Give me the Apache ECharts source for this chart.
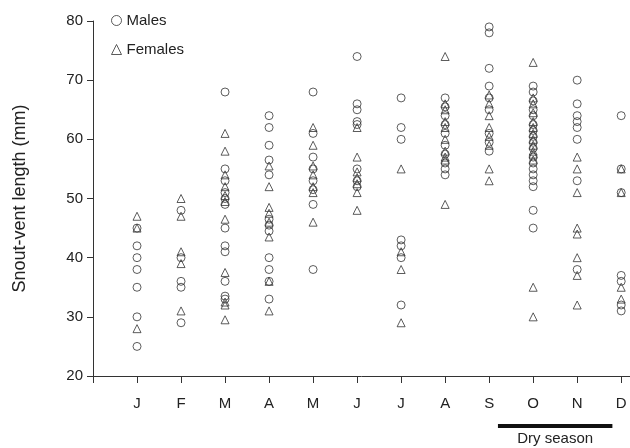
<!DOCTYPE html>
<html>
<head>
<meta charset="utf-8">
<script src="https://cdn.jsdelivr.net/npm/echarts@6/dist/echarts.min.js"></script>
<style>
  html, body { margin: 0; padding: 0; background: #fff; }
  #chart { width: 630px; height: 448px; }
</style>
</head>
<body>
<div id="chart"></div>
<script>
const months = ['J', 'F', 'M', 'A', 'M', 'J', 'J', 'A', 'S', 'O', 'N', 'D'];

// snout-vent length (mm) per month
const males = [
  [45, 42, 40, 38, 35, 30, 25],
  [48, 40, 36, 35, 29],
  [68, 55, 53, 51, 50, 49, 45, 42, 41, 36, 33.5, 33],
  [64, 62, 59, 56.5, 54, 46.5, 45.5, 44.5, 40, 38, 36, 33],
  [68, 61, 57, 55, 53, 51.5, 49, 38],
  [74, 66, 65, 63, 62.5, 55, 53, 52],
  [67, 62, 60, 43, 42, 40, 32],
  [67, 65.5, 64, 62.5, 61, 59, 57.5, 56, 55, 54],
  [79, 78, 72, 69, 67, 65, 61, 59.5, 58],
  [69, 68, 66.5, 65, 64, 62.5, 61.5, 60.5, 59.5, 58.5, 57, 56, 55, 54, 53, 52, 48, 45],
  [70, 66, 64, 63, 62, 60, 53, 38],
  [64, 55, 51, 37, 36, 32, 31]
];
const females = [
  [47, 45, 28],
  [50, 47, 41, 39, 31],
  [61, 58, 54, 52, 50.5, 49.5, 46.5, 37.5, 32.5, 32, 29.5],
  [55.5, 52, 48.5, 47.5, 46, 43.5, 36, 31],
  [62, 59, 55.5, 54, 52, 51, 46],
  [62, 57, 54.5, 53.5, 52.5, 51, 48],
  [55, 41, 38, 29],
  [74, 66, 65, 63, 62, 60, 58, 57, 56.5, 49],
  [67.5, 66, 64, 62, 60.5, 59, 55, 53],
  [73, 67, 66, 64.5, 63, 62, 61, 60, 59, 58, 57.5, 56.5, 35, 30],
  [57, 55, 51, 45, 44, 40, 37, 32],
  [55, 51, 35, 33]
];

// dry season span on the month axis (S=9 ... D=12)
const drySeason = [9.2, 11.8];

function toPoints(groups) {
  const pts = [];
  groups.forEach((vals, i) => vals.forEach(v => pts.push([i + 1, v])));
  return pts;
}

const font = '"Liberation Sans", Arial, sans-serif';
const ink = '#333';

const chart = echarts.init(document.getElementById('chart'));

chart.setOption({
  animation: false,
  textStyle: { fontFamily: font },
  grid: { left: 93, right: 0, top: 21, bottom: 72 },
  legend: {
    orient: 'vertical',
    left: 106,
    top: 8,
    itemWidth: 10,
    itemHeight: 10,
    itemGap: 14,
    itemStyle: { borderWidth: 1 },
    textStyle: { fontSize: 15, color: '#222', fontFamily: font },
    data: ['Males', 'Females']
  },
  xAxis: {
    type: 'value',
    min: 0,
    max: 12.2,
    interval: 1,
    splitLine: { show: false },
    axisLine: { lineStyle: { color: ink, width: 1 } },
    axisTick: { length: 7, lineStyle: { color: ink } },
    axisLabel: {
      margin: 20,
      fontSize: 15,
      color: '#222',
      showMaxLabel: false,
      formatter: v => (v >= 1 && v <= 12 ? months[v - 1] : '')
    }
  },
  yAxis: {
    type: 'value',
    min: 20,
    max: 80,
    interval: 10,
    name: 'Snout-vent length (mm)',
    nameLocation: 'middle',
    nameGap: 64,
    nameTextStyle: { fontSize: 18, color: '#222', fontFamily: font },
    splitLine: { show: false },
    axisLine: { show: true, lineStyle: { color: ink, width: 1 } },
    axisTick: { show: true, length: 6, lineStyle: { color: ink } },
    axisLabel: { margin: 10, fontSize: 15, color: '#222' }
  },
  series: [
    {
      name: 'Males',
      type: 'scatter',
      symbol: 'circle',
      symbolSize: 8,
      itemStyle: { color: 'rgba(255,255,255,0)', borderColor: ink, borderWidth: 1 },
      data: toPoints(males)
    },
    {
      name: 'Females',
      type: 'scatter',
      symbol: 'triangle',
      symbolSize: 8,
      itemStyle: { color: 'rgba(255,255,255,0)', borderColor: ink, borderWidth: 1 },
      data: toPoints(females)
    }
  ]
});

// dry season bar under the axis, positioned from axis values
const x0 = chart.convertToPixel({ xAxisIndex: 0 }, drySeason[0]);
const x1 = chart.convertToPixel({ xAxisIndex: 0 }, drySeason[1]);
chart.setOption({
  graphic: [
    {
      type: 'rect',
      shape: { x: x0, y: 424, width: x1 - x0, height: 4 },
      style: { fill: '#111' }
    },
    {
      type: 'text',
      x: (x0 + x1) / 2,
      y: 439,
      style: {
        text: 'Dry season',
        fontSize: 15,
        fontFamily: font,
        fill: '#222',
        align: 'center',
        verticalAlign: 'middle'
      }
    }
  ]
});
</script>
</body>
</html>
